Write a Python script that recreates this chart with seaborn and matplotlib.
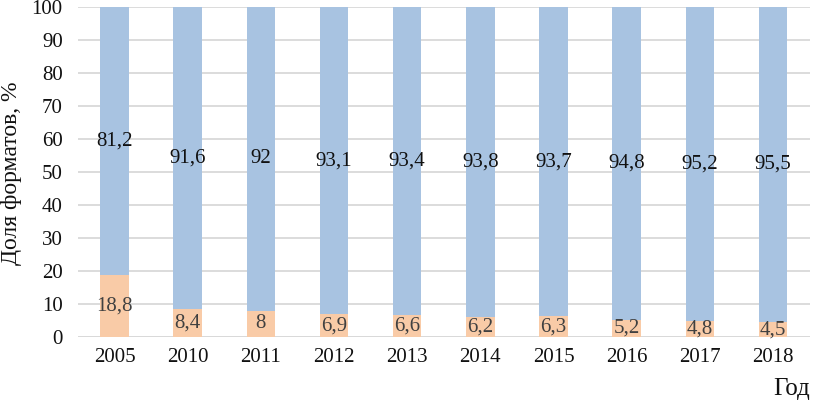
import matplotlib
matplotlib.use("Agg")
import matplotlib.pyplot as plt
import seaborn as sns
import pandas as pd

years = ["2005", "2010", "2011", "2012", "2013", "2014", "2015", "2016", "2017", "2018"]
top_share = [81.2, 91.6, 92, 93.1, 93.4, 93.8, 93.7, 94.8, 95.2, 95.5]
bottom_share = [18.8, 8.4, 8, 6.9, 6.6, 6.2, 6.3, 5.2, 4.8, 4.5]
top_labels = ["81,2", "91,6", "92", "93,1", "93,4", "93,8", "93,7", "94,8", "95,2", "95,5"]
bottom_labels = ["18,8", "8,4", "8", "6,9", "6,6", "6,2", "6,3", "5,2", "4,8", "4,5"]

sns.set_theme(style="white")
plt.rcParams['font.family'] = ['Liberation Serif', 'DejaVu Serif']

df = pd.DataFrame({"year": years, "top": top_share, "bottom": bottom_share})
df["total"] = df["top"] + df["bottom"]

fig = plt.figure(figsize=(8.14, 4.08), dpi=100)
ax = fig.add_axes([0.0958, 0.174, 0.8987, 0.809])

blue = "#a8c3e1"
peach = "#f9cba7"
sns.barplot(data=df, x="year", y="total", color=blue, width=0.39, ax=ax,
            saturation=1, zorder=3, linewidth=0)
sns.barplot(data=df, x="year", y="bottom", color=peach, width=0.39, ax=ax,
            saturation=1, zorder=4, linewidth=0)

for i, (t, b) in enumerate(zip(top_share, bottom_share)):
    ax.text(i, b + t / 2, top_labels[i], ha="center", va="center", fontsize=15,
            color="#111111", zorder=5)
    ax.text(i, b / 2, bottom_labels[i], ha="center", va="center", fontsize=15,
            color="#404040", zorder=5)

ax.set_ylim(0, 100)
ax.set_xlim(-0.5, len(years) - 0.5)
ax.set_yticks(range(0, 101, 10))
ax.yaxis.grid(True, color="#d9d9d9", linewidth=1.3, zorder=0)
ax.set_axisbelow(True)
for s in ax.spines.values():
    s.set_visible(False)
ax.axhline(0, color="#d9d9d9", linewidth=1.3, zorder=2)
ax.tick_params(axis="both", length=0, labelsize=15, colors="#111111")
ax.tick_params(axis="x", pad=8)
ax.tick_params(axis="y", pad=11)
ax.set_xlabel("")
ax.set_ylabel("")
fig.text(12 / 814, 1 - 173 / 408, "Доля форматов, %", rotation=90, ha="center",
         va="center", fontsize=17, color="#111111")
fig.text(0.995, 0.02, "Год", ha="right", va="bottom", fontsize=18, color="#111111")

fig.savefig("out.png", dpi=100)
